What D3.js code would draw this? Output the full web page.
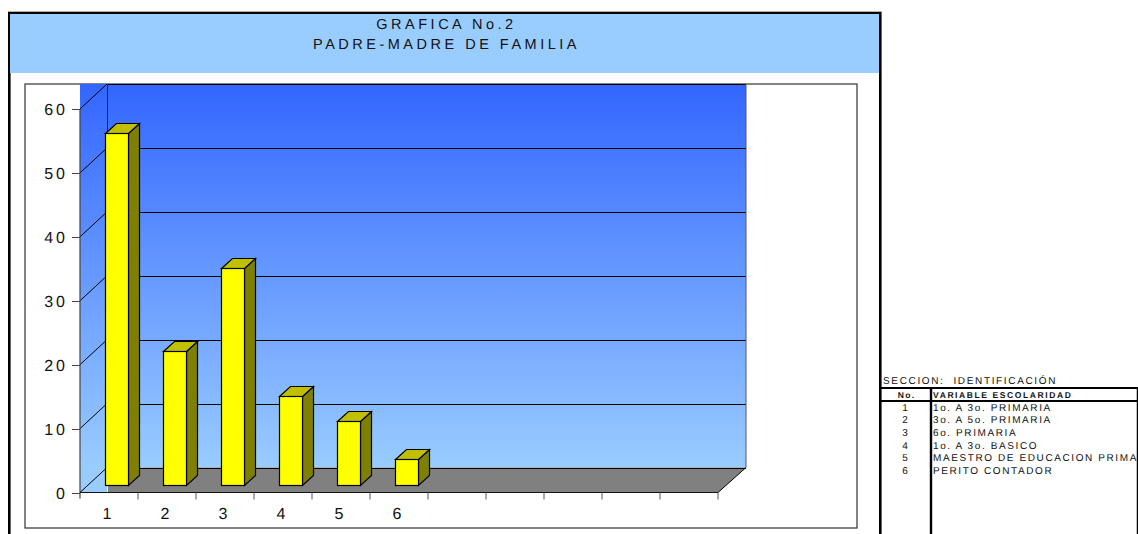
<!DOCTYPE html>
<html><head><meta charset="utf-8">
<script src="https://cdn.jsdelivr.net/npm/d3@7/dist/d3.min.js"></script>
<style>html,body{margin:0;padding:0;background:#fff;overflow:hidden}svg{display:block}
text{font-family:"Liberation Sans",Arial,sans-serif;fill:#111;text-rendering:geometricPrecision}</style></head>
<body><svg id="c" width="1138" height="534"></svg>
<script>
const titleLines = ["GRAFICA No.2", "PADRE-MADRE DE FAMILIA"];
const categories = [1, 2, 3, 4, 5, 6, 7, 8, 9, 10, 11];
const tickLabels = ["1", "2", "3", "4", "5", "6"];
const values = [55, 21, 34, 14, 10, 4];
const yTicks = [0, 10, 20, 30, 40, 50, 60];
const sectionLabel = "SECCION:  IDENTIFICACIÓN";
const tableHeader = ["No.", "VARIABLE ESCOLARIDAD"];
const tableNumbers = ["1", "2", "3", "4", "5", "6"];
const tableRows = ["1o. A 3o. PRIMARIA", "3o. A 5o. PRIMARIA", "6o. PRIMARIA", "1o. A 3o. BASICO", "MAESTRO DE EDUCACION PRIMA", "PERITO CONTADOR"];

const svg = d3.select("#c");
const x = d3.scaleBand().domain(categories).range([80, 718]);
const y = d3.scaleLinear().domain([0, 60]).range([492.5, 109]);
const dx = 27, dy = 25;           // wall depth
const poly = p => "M" + p.map(d => d.join(",")).join("L") + "Z";
const line = (g, a, b, c, d, col, w) => g.append("line").attr("x1", a).attr("y1", b).attr("x2", c).attr("y2", d).attr("stroke", col).attr("stroke-width", w);
const snap = v => Math.round(v) + 0.5;

// frame + header
svg.append("rect").attr("x", 9.3).attr("y", 13).attr("width", 871).attr("height", 530).attr("fill", "#fff").attr("stroke", "#000").attr("stroke-width", 2.6);
svg.append("rect").attr("x", 10).attr("y", 14).attr("width", 869).attr("height", 59).attr("fill", "#99ccff");
svg.selectAll("text.title").data(titleLines).join("text").attr("class", "title")
  .attr("x", 446.5).attr("y", (d, i) => 29 + i * 20).attr("text-anchor", "middle")
  .attr("font-size", 14.5).attr("letter-spacing", 3.5).text(d => d);

// chart box
svg.append("rect").attr("x", 25).attr("y", 84).attr("width", 832).attr("height", 444).attr("fill", "#fff").attr("stroke", "#333").attr("stroke-width", 1.2);

// walls
const defs = svg.append("defs");
const grad = defs.append("linearGradient").attr("id", "wall").attr("gradientUnits", "userSpaceOnUse")
  .attr("x1", 0).attr("x2", 0).attr("y1", y(60) - dy).attr("y2", y(0) - dy);
grad.append("stop").attr("offset", "0%").attr("stop-color", "#3366ff");
grad.append("stop").attr("offset", "100%").attr("stop-color", "#99ccff");
const x0 = x.range()[0], x1 = x.range()[1], yb = y(0), yt = y(60);
svg.append("path").attr("fill", "url(#wall)").attr("d", poly([[x0, yt - dy], [x1 + dx + 1, yt - dy], [x1 + dx + 1, yb - dy], [x0 + dx, yb - dy], [x0 + dx, yb], [x0, yb]]));
svg.append("path").attr("fill", "#808080").attr("d", poly([[x0 + dx, yb - dy], [x1 + dx + 1, yb - dy], [x1, yb], [x0 + dx + 1, yb]]));

const g = svg.append("g");
// gridlines + wall lines
yTicks.forEach(t => {
  line(g, x0, y(t), x0 + dx, y(t) - dy, "#000", 1);
  line(g, x0 + dx, t === 60 ? 84.5 : snap(y(t) - dy), x1 + dx + 1, t === 60 ? 84.5 : snap(y(t) - dy), "#000", 1);
});
line(g, x0 + dx + .5, yt - dy, x0 + dx + .5, yb - dy, "#223", 1);
line(g, x1 + dx + 1, yt - dy, x1 + dx + 1, yb - dy, "#557", 1);
line(g, x1 + dx + 1, yb - dy, x1, yb, "#000", 1);
line(g, x0, yt, x0, yb + 6, "#444", 1.2);
line(g, x0, yb, x1, yb, "#111", 1.2);

// axes ticks + labels
yTicks.forEach(t => {
  line(g, x0 - 8, snap(y(t)), x0, snap(y(t)), "#444", 1);
});
svg.selectAll("text.yl").data(yTicks).join("text").attr("class", "yl")
  .attr("x", 68).attr("y", d => y(d) + 6).attr("text-anchor", "end")
  .attr("font-size", 16).attr("letter-spacing", 3).text(d => d);
categories.forEach(c => line(g, x(c) + x.bandwidth(), yb, x(c) + x.bandwidth(), yb + 7, "#555", 1));
svg.selectAll("text.xl").data(tickLabels).join("text").attr("class", "xl")
  .attr("x", (d, i) => x(categories[i]) + x.bandwidth() / 2 - 2).attr("y", 519).attr("text-anchor", "middle")
  .attr("font-size", 16).text(d => d);

// 3D bars
const bw = 23, bx = 25.5, ddx = 11, ddy = 10, lift = 7;
const bars = svg.selectAll("g.bar").data(values).join("g").attr("class", "bar");
bars.each(function (v, i) {
  const s = d3.select(this);
  const l = x(categories[i]) + bx, r = l + bw, b = y(0) - lift, t = Math.floor(y(v) - lift) + 0.5;
  s.append("path").attr("fill", "#808000").attr("stroke", "#000").attr("stroke-width", 1.2).attr("d", poly([[r, t], [r + ddx, t - ddy], [r + ddx, b - ddy], [r, b]]));
  s.append("path").attr("fill", "#c0c000").attr("stroke", "#000").attr("stroke-width", 1.2).attr("d", poly([[l, t], [l + ddx, t - ddy], [r + ddx, t - ddy], [r, t]]));
  s.append("rect").attr("x", l).attr("y", t).attr("width", bw).attr("height", b - t).attr("fill", "#ffff00").attr("stroke", "#000").attr("stroke-width", 1.2);
});

// side table
svg.append("text").attr("x", 883).attr("y", 383.5).attr("font-size", 10).attr("letter-spacing", 1.65).style("white-space", "pre").text(sectionLabel);
const t = svg.append("g");
line(t, 881, 388, 1138, 388, "#000", 2);
line(t, 881, 401, 1138, 401, "#000", 2);
line(t, 931, 388, 931, 534, "#000", 2.4);
line(t, 1137.5, 388, 1137.5, 534, "#000", 1.5);
t.append("text").attr("x", 906.5).attr("y", 397.5).attr("text-anchor", "middle").attr("font-size", 8.5).attr("font-weight", "bold").attr("letter-spacing", 1.3).text(tableHeader[0]);
t.append("text").attr("x", 933).attr("y", 397.5).attr("font-size", 8.5).attr("font-weight", "bold").attr("letter-spacing", 1.6).text(tableHeader[1]);
t.selectAll("text.n").data(tableNumbers).join("text").attr("class", "n").attr("x", 905).attr("y", (d, i) => 410.5 + i * 12.7).attr("text-anchor", "middle").attr("font-size", 10).text(d => d);
t.selectAll("text.r").data(tableRows).join("text").attr("class", "r").attr("x", 933).attr("y", (d, i) => 410.5 + i * 12.7).attr("font-size", 10).attr("letter-spacing", 1.6).text(d => d);
</script></body></html>
